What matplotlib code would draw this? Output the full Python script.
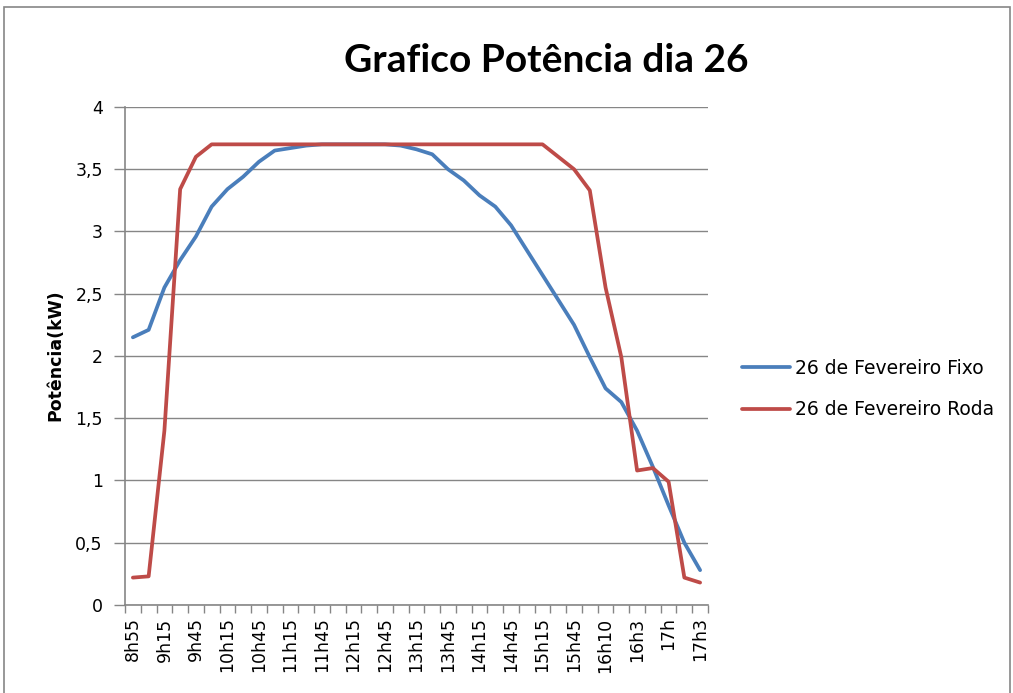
import matplotlib
matplotlib.use("Agg")
import matplotlib.pyplot as plt
from matplotlib.patches import Rectangle

plt.rcParams['font.family'] = ['DejaVu Sans']

# rotulos do eixo x (um a cada dois pontos)
horas = ["8h55", "9h15", "9h45", "10h15", "10h45", "11h15", "11h45", "12h15",
         "12h45", "13h15", "13h45", "14h15", "14h45", "15h15", "15h45", "16h10",
         "16h3", "17h", "17h3"]

# potencia (kW) painel fixo
fixo = [2.15, 2.21, 2.55, 2.77, 2.96, 3.20, 3.34, 3.44, 3.56, 3.65,
        3.67, 3.69, 3.70, 3.70, 3.70, 3.70, 3.70, 3.69, 3.66, 3.62,
        3.50, 3.41, 3.29, 3.20, 3.05, 2.85, 2.65, 2.45, 2.25, 1.99,
        1.74, 1.63, 1.40, 1.11, 0.80, 0.50, 0.28]

# potencia (kW) painel com roda
roda = [0.22, 0.23, 1.40, 3.34, 3.60, 3.70, 3.70, 3.70, 3.70, 3.70,
        3.70, 3.70, 3.70, 3.70, 3.70, 3.70, 3.70, 3.70, 3.70, 3.70,
        3.70, 3.70, 3.70, 3.70, 3.70, 3.70, 3.70, 3.60, 3.50, 3.33,
        2.55, 1.99, 1.08, 1.10, 0.99, 0.22, 0.18]

n = len(fixo)
x = list(range(n))

fig = plt.figure(figsize=(10.13, 6.93), dpi=100)
ax = fig.add_axes([0.1234, 0.127, 0.5755, 0.7186])

ax.plot(x, fixo, color='#4A7EBB', lw=2.7, label='26 de Fevereiro Fixo',
        solid_joinstyle='round', solid_capstyle='round')
ax.plot(x, roda, color='#BE4B48', lw=2.7, label='26 de Fevereiro Roda',
        solid_joinstyle='round', solid_capstyle='round')

ax.set_xlim(-0.5, n - 0.5)
ax.set_ylim(0, 4)

# grelha horizontal
yt = [0, 0.5, 1, 1.5, 2, 2.5, 3, 3.5, 4]
ax.set_yticks(yt)
ax.set_yticklabels([f"{v:g}".replace('.', ',') for v in yt], fontsize=12.5)
ax.grid(axis='y', color='#868686', lw=1.0)
ax.set_axisbelow(True)

# marcas entre categorias, rotulos nos pontos pares
ax.set_xticks([i - 0.5 for i in range(n + 1)])
ax.set_xticklabels([])
ax.set_xticks(list(range(0, n, 2)), minor=True)
ax.set_xticklabels(horas, minor=True, rotation=90, fontsize=12.5)
ax.tick_params(axis='x', which='major', length=6, color='#868686', width=1)
ax.tick_params(axis='x', which='minor', length=0, pad=9)
ax.tick_params(axis='y', length=8, color='#868686', width=1, pad=8)

for s in ['top', 'right']:
    ax.spines[s].set_visible(False)
for s in ['left', 'bottom']:
    ax.spines[s].set_color('#868686')
    ax.spines[s].set_linewidth(1.2)

fig.text(55 / 1013, 1 - 355 / 693, 'Potência(kW)', rotation=90, ha='center',
         va='center', fontsize=12.5, fontweight='bold')

fig.text(0.539, 0.913, 'Grafico Potência dia 26', ha='center', va='center',
         fontsize=28, fontweight='bold', family=['Lato', 'DejaVu Sans'])

fig.legend(*ax.get_legend_handles_labels(), loc='center left',
           bbox_to_anchor=(742 / 1013, 1 - 389 / 693), frameon=False,
           fontsize=13.5, handlelength=2.56, handletextpad=0.27,
           labelspacing=1.2, borderpad=0, borderaxespad=0)

# borda da area do grafico
fig.patches.append(Rectangle((4 / 1013, -0.05), 1006 / 1013, 1.05 - 7 / 693,
                             transform=fig.transFigure, fill=False,
                             edgecolor='#868686', lw=1.2))

fig.savefig('out.png', dpi=100)
